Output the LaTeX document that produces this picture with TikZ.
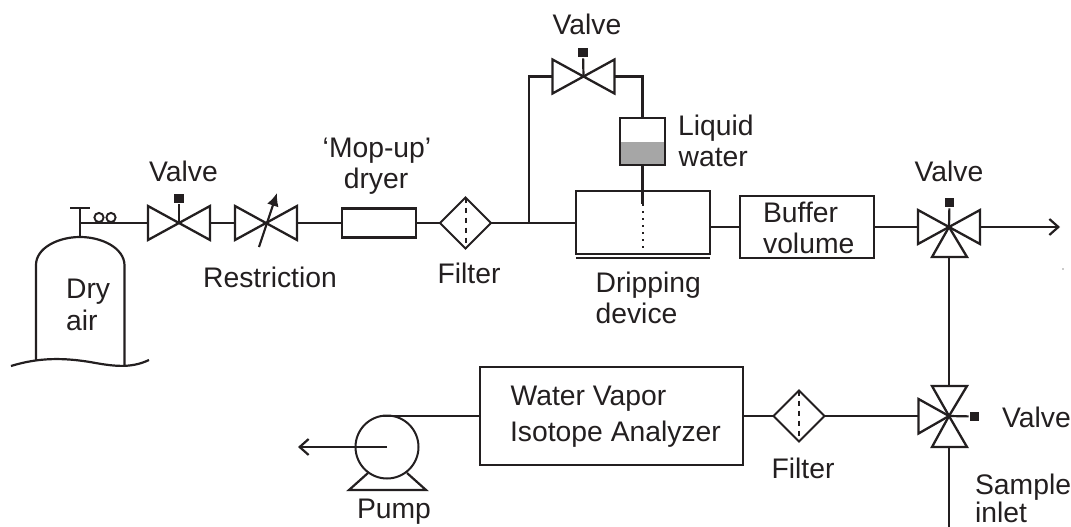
\documentclass[tikz,border=0pt]{standalone}
\usepackage{fontspec}
\setmainfont{Liberation Sans}
\usetikzlibrary{arrows.meta}
\definecolor{ink}{HTML}{231F20}
\tikzset{
 x=1pt,y=-1pt,
 every path/.style={draw=ink,line width=2.2pt,line join=miter},
 lbl/.style={inner sep=0pt,text=ink,font=\fontsize{28.3}{28.3}\selectfont,anchor=base},
 lbll/.style={lbl,anchor=base west},
 boxn/.style={rectangle,draw=ink,line width=2.2pt,inner sep=0pt,fill=white},
 openarrow/.style={-{Straight Barb[length=9pt,width=16pt,line width=2.2pt]}},
 tri/.style={draw=ink,line width=2.3pt,fill=white},
 handle/.style={fill=ink,draw=none,rectangle,minimum size=9.5pt,inner sep=0pt},
}
% two-way valve: #1 name, #2 x, #3 y
\newcommand{\valvetwo}[3]{%
 \coordinate (#1) at (#2,#3);
 \coordinate (#1-w) at (#2-31,#3);
 \coordinate (#1-e) at (#2+31,#3);
 \path[tri] (#1) -- (#1-w |- 0,#3-17) -- (#1-w |- 0,#3+17) -- cycle;
 \path[tri] (#1) -- (#1-e |- 0,#3-17) -- (#1-e |- 0,#3+17) -- cycle;
}
\newcommand{\filtersym}[3]{%
 \node[draw=none,fill=none,minimum size=0pt,inner sep=0pt] (#1) at (#2,#3) {};
 \coordinate (#1-w) at (#2-25.5,#3);
 \coordinate (#1-e) at (#2+25.5,#3);
 \coordinate (#1-n) at (#2,#3-25.5);
 \coordinate (#1-s) at (#2,#3+25.5);
 \draw[line width=1.8pt] (#1-w) -- (#1-n) -- (#1-e) -- (#1-s) -- cycle;
 \draw[line width=2pt,dash pattern=on 5pt off 5pt] (#1-n) -- (#1-s);
}
\begin{document}
\begin{tikzpicture}
\useasboundingbox[draw=none] (0,0) rectangle (1071,527);
% Cylinder
\draw (36,360) -- (36,265) .. controls (36,248) and (58,237) .. (80,237)
      .. controls (102,237) and (124,248) .. (124.5,265) -- (124.5,366);
\draw (11,366) .. controls (40,357) and (65,358) .. (90,362) .. controls (112,366) and (130,369) .. (149,360);
\coordinate (stemtop) at (80,208);
\coordinate (stembot) at (80,237);
\draw (stembot) -- (stemtop);
\draw ([xshift=-10pt]stemtop) -- ([xshift=10pt]stemtop);
\draw[line width=1.9pt] (99,217.5) circle (4.6);
\draw[line width=1.9pt] (111,217.5) circle (4.6);
\coordinate (reg) at (80,223);
% Valve 1
\valvetwo{va}{179}{223}
\draw (reg) -- (va-w);
\node[handle] (vah) at (179,198.5) {};
\draw (va) -- (vah);
% Restriction
\valvetwo{vr}{266}{223}
\draw (va-e) -- (vr-w);
\coordinate (rs) at (259,247);
\coordinate (re) at (277,193);
\draw[-{Latex[length=13pt,width=12pt]}] (rs) -- (re);
% Mop-up
\node[boxn,minimum width=74pt,minimum height=29pt] (mop) at (379,223) {};
\draw (vr-e) -- (mop);
% Filter 1
\filtersym{fa}{465.5}{223}
\draw (mop) -- (fa-w);
% Dripping device
\node[boxn,line width=2pt,minimum width=134pt,minimum height=63pt] (drip) at (643,222.5) {};
\coordinate (dripunder) at (643,258);
\draw[line width=1.9pt] ([xshift=-67pt]dripunder) -- ([xshift=67pt]dripunder);
\draw (fa-e) -- (drip.west |- fa-e);
\coordinate (branch) at (529,223);
% Upper valve
\valvetwo{vb}{583.5}{76.5}
\node[handle] (vbh) at (583,52.5) {};
\draw (vb) -- (vbh);
\coordinate (corner) at (529,76.5);
\draw (branch) -- (corner) -- (vb-w);
% Water vessel
\node[boxn,minimum width=45pt,minimum height=47pt] (vessel) at (642.5,141.5) {};
\fill[fill=black!35,draw=none] (621,142) rectangle (664,164);
\coordinate (cornerb) at (642.5,76.5);
\draw (vb-e) -- (cornerb) -- (vessel.north);
\coordinate (dripin) at (642.5,204);
\draw (vessel.south) -- (dripin);
\coordinate (dripend) at (642.5,255);
\draw[line width=2pt,dash pattern=on 2pt off 5pt] ([yshift=7pt]dripin) -- (dripend);
% Buffer
\node[boxn,minimum width=134pt,minimum height=62pt] (buf) at (807,227) {};
\draw (drip.east |- buf) -- (buf);
% Three way valve top
\valvetwo{vc}{949}{227}
\path[tri] (vc) -- (932,257) -- (967,257) -- cycle;
\node[handle] (vch) at (949.5,202.5) {};
\draw (vc) -- (vch);
\draw (buf) -- (vc-w);
\coordinate (out) at (1060,227);
\draw[openarrow] (vc-e) -- (out);
\coordinate (vc-s) at (949,257);
% Three way valve bottom
\coordinate (vd) at (949,416);
\coordinate (vd-n) at (949,386);
\coordinate (vd-s) at (949,447);
\coordinate (vd-w) at (918.5,416);
\path[tri] (vd) -- (932,386) -- (967,386) -- cycle;
\path[tri] (vd) -- (932,447) -- (967,447) -- cycle;
\path[tri] (vd) -- (vd-w |- 0,399) -- (vd-w |- 0,433.5) -- cycle;
\node[handle] (vdh) at (974.5,416.5) {};
\draw (vd) -- (vdh);
\draw (vc-s) -- (vd-n);
\coordinate (inletend) at (949,527);
\draw (vd-s) -- (inletend);
% Filter 2
\filtersym{fb}{799}{416}
\draw (vd-w) -- (fb-e);
% Analyzer
\node[boxn,minimum width=263pt,minimum height=98pt] (ana) at (611.5,416) {};
\draw (fb-w) -- (ana);
% Pump
\node[circle,draw=ink,line width=2pt,minimum size=63pt,inner sep=0pt] (pump) at (387,447) {};
\coordinate (pumptop) at (382,416);
\draw (ana.west |- pumptop) -- (pumptop);
\coordinate (pumpout) at (298,447);
\draw[openarrow] (pump.center) -- (pumpout);
\coordinate (fl) at (349,490);
\coordinate (fr) at (426,490);
\draw (368,473) -- (fl) -- (fr) -- (407,473);
% Stray dot
\fill[ink,draw=none] (1063,269) circle (0.7);
% Labels
\node[lbl] (t1) at (183.5,181) {Valve};
\node[lbl] (t2) at (270,287) {Restriction};
\node[lbll] (t3) at (65,298) {Dry};
\node[lbll] (t4) at (65,330) {air};
\node[lbl] (t5) at (377,157) {‘Mop-up’};
\node[lbl] (t6) at (376,188) {dryer};
\node[lbl] (t7) at (469,283) {Filter};
\node[lbl] (t8) at (587,35) {Valve};
\node[lbll] (t9) at (677,135) {Liquid};
\node[lbll] (t10) at (677.5,166) {water};
\node[lbll] (t11) at (594.5,292) {Dripping};
\node[lbll] (t12) at (594.5,323) {device};
\node[lbll] (t13) at (762,222) {Buffer};
\node[lbll] (t14) at (762,253) {volume};
\node[lbl] (t15) at (949,181) {Valve};
\node[lbll] (t16) at (1001,427) {Valve};
\node[lbll] (t17) at (974,494) {Sample};
\node[lbll] (t18) at (974,522) {inlet};
\node[lbll] (t19) at (509.5,405) {Water Vapor};
\node[lbll] (t20) at (509,441) {Isotope Analyzer};
\node[lbl] (t21) at (803,478) {Filter};
\node[lbl] (t22) at (394,518) {Pump};
\end{tikzpicture}
\end{document}
